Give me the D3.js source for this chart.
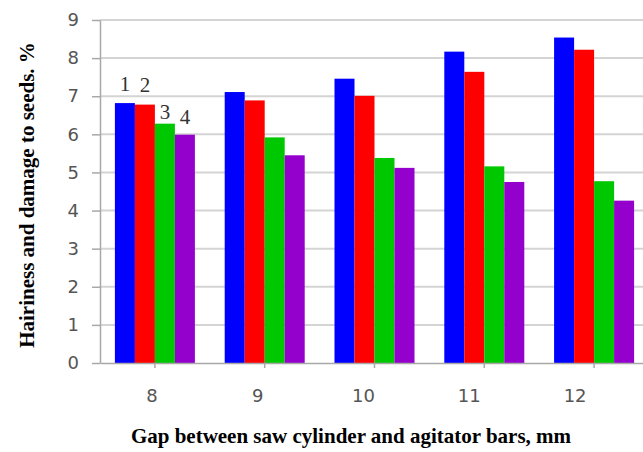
<!DOCTYPE html>
<html>
<head>
<meta charset="utf-8">
<script src="https://cdn.jsdelivr.net/npm/d3@7"></script>
<style>
  html, body { margin: 0; padding: 0; background: #fff; }
  svg { display: block; }
</style>
</head>
<body>
<svg id="chart" width="643" height="452"></svg>
<script>
// ---- Data ----
const categories = ["8", "9", "10", "11", "12"];
const seriesNames = ["1", "2", "3", "4"];
const series1 = [6.82, 7.11, 7.46, 8.17, 8.54];
const series2 = [6.78, 6.89, 7.01, 7.64, 8.22];
const series3 = [6.28, 5.92, 5.38, 5.16, 4.77];
const series4 = [5.99, 5.45, 5.12, 4.75, 4.26];
const yTicks = [0, 1, 2, 3, 4, 5, 6, 7, 8, 9];
const xTitle = "Gap between saw cylinder and agitator bars, mm";
const yTitle = "Hairiness and damage to seeds. %";

// ---- Styles ----
const colors = ["#0000ff", "#ff0000", "#00c800", "#9400cc"];
const seriesLabelDy = [-12, -13, -5, -11];

const allSeries = [series1, series2, series3, series4];
const W = 643, H = 452;
const mLeft = 100, mRight = 649, mTop = 20, mBottom = 363;

const svg = d3.select("#chart");

const y = d3.scaleLinear().domain([0, 9]).range([mBottom, mTop]);
const x0 = d3.scaleBand().domain(categories).range([mLeft, mRight]).padding(0);
const x1 = d3.scaleBand().domain(seriesNames).range([0, x0.bandwidth()]).paddingInner(0).paddingOuter(0.745);
const xLabels = d3.scaleBand().domain(categories).range([99, 628]).padding(0);

// gridlines
svg.append("g")
  .selectAll("line")
  .data(yTicks.filter(d => d > 0))
  .join("line")
  .attr("x1", mLeft).attr("x2", W)
  .attr("y1", d => y(d)).attr("y2", d => y(d))
  .attr("stroke", "#d4d4d4").attr("stroke-width", 2);

// y axis
const yAxis = svg.append("g")
  .attr("transform", `translate(${mLeft},0)`)
  .call(d3.axisLeft(y).tickValues(yTicks).tickSize(8).tickPadding(13).tickSizeOuter(0));
yAxis.select(".domain").attr("stroke", "#a8a8a8").attr("stroke-width", 1.5);
yAxis.selectAll(".tick line").attr("stroke", "#a8a8a8").attr("stroke-width", 1.5);
yAxis.selectAll(".tick text")
  .attr("fill", "#555")
  .style("font-family", "'DejaVu Sans', Verdana, sans-serif")
  .style("font-size", "18px");

// bars
const groups = svg.append("g")
  .selectAll("g")
  .data(categories)
  .join("g")
  .attr("transform", d => `translate(${x0(d)},0)`);

groups.selectAll("rect")
  .data((c, i) => allSeries.map((s, j) => ({ name: seriesNames[j], value: s[i], j })))
  .join("rect")
  .attr("x", d => x1(d.name))
  .attr("width", x1.bandwidth())
  .attr("y", d => y(d.value))
  .attr("height", d => y(0) - y(d.value))
  .attr("fill", d => colors[d.j]);

// x axis (tick marks at category centres)
const xAxis = svg.append("g")
  .attr("transform", `translate(0,${mBottom})`)
  .call(d3.axisBottom(x0).tickSize(5).tickSizeOuter(0).tickFormat(""));
xAxis.select(".domain").attr("stroke", "#a8a8a8").attr("stroke-width", 1.5);
xAxis.selectAll(".tick line").attr("stroke", "#a8a8a8").attr("stroke-width", 1.5);

// x tick labels
const xLab = svg.append("g")
  .attr("transform", `translate(0,${mBottom})`)
  .call(d3.axisBottom(xLabels).tickSize(0).tickPadding(26));
xLab.select(".domain").remove();
xLab.selectAll(".tick text")
  .attr("fill", "#555")
  .style("font-family", "'DejaVu Sans', Verdana, sans-serif")
  .style("font-size", "18px");

// series labels above first group
svg.append("g")
  .selectAll("text")
  .data(seriesNames)
  .join("text")
  .attr("x", (d, j) => x0(categories[0]) + x1(d) + x1.bandwidth() / 2)
  .attr("y", (d, j) => y(allSeries[j][0]) + seriesLabelDy[j])
  .attr("text-anchor", "middle")
  .attr("fill", "#333")
  .style("font-family", "'Liberation Serif', 'Times New Roman', serif")
  .style("font-size", "21px")
  .text(d => d);

// axis titles
svg.append("text")
  .attr("x", 351).attr("y", 443)
  .attr("text-anchor", "middle")
  .attr("fill", "#000")
  .style("font-family", "'Liberation Serif', 'Times New Roman', serif")
  .style("font-weight", "bold")
  .style("font-size", "21px")
  .text(xTitle);

svg.append("text")
  .attr("transform", "translate(34,195) rotate(-90)")
  .attr("text-anchor", "middle")
  .attr("fill", "#000")
  .style("font-family", "'Liberation Serif', 'Times New Roman', serif")
  .style("font-weight", "bold")
  .style("font-size", "21px")
  .text(yTitle);
</script>
</body>
</html>
